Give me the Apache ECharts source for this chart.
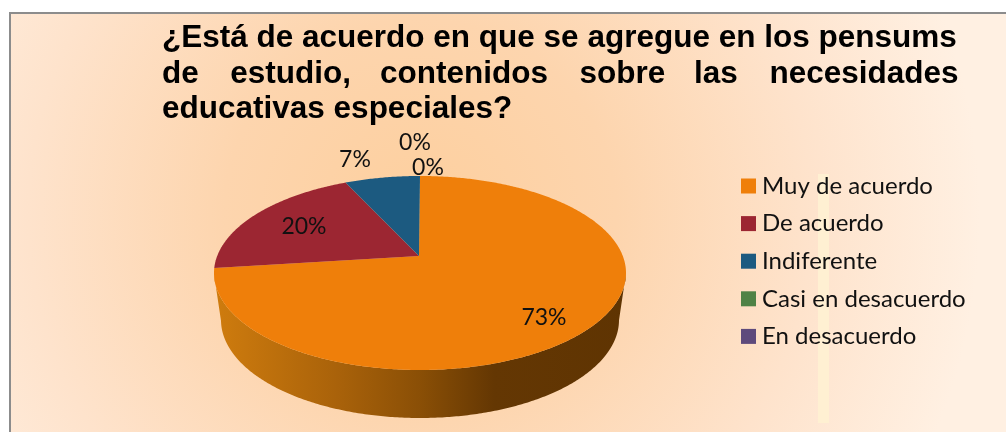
<!DOCTYPE html>
<html>
<head>
<meta charset="utf-8">
<style>
  html, body { margin: 0; padding: 0; background: #fff; }
  #chart { width: 1006px; height: 432px; }
</style>
<script src="https://cdn.jsdelivr.net/npm/echarts@6/dist/echarts.min.js"></script>
</head>
<body>
<div id="chart"></div>
<script>
// data
const categories = ['Muy de acuerdo', 'De acuerdo', 'Indiferente', 'Casi en desacuerdo', 'En desacuerdo']
const percents = [73, 20, 7, 0, 0]
const colors = ['#ef7f0a', '#9c2632', '#1c5a80', '#4f8245', '#5e4a7c']
// hair spaces stretch the second line to the full title width
const titleLines = [
  '¿Está de acuerdo en que se agregue en los pensums',
  'de   \u200a\u200aestudio,   \u200acontenidos   \u200a\u200asobre   \u200alas   \u200a\u200anecesidades',
  'educativas especiales?'
]

// layout of the tilted pie
const topRim = { cx: 420, cy: 273, rx: 206, ry: 97 }
const bottomRim = { cx: 420, cy: 320, rx: 199, ry: 98 }
const tilt = -0.175 // moves the apex up from the centre of the ellipse
const labelSpots = [[544, 318], [304, 227], [355, 160], [415, 143], [428, 168]]
const labelFont = '23px Lato'

const total = percents.reduce((a, b) => a + b, 0)

// angle 0 is 12 o'clock, clockwise
const project = (rim, angle) => {
  const u = Math.sin(angle)
  const v = -Math.cos(angle)
  const d = 1 + tilt * v
  return {
    x: u * Math.sqrt(1 - tilt * tilt) / d,
    y: (v + tilt) / d,
    px: rim.cx + rim.rx * u * Math.sqrt(1 - tilt * tilt) / d,
    py: rim.cy + rim.ry * (v + tilt) / d
  }
}

const arc = (rim, start, end) => {
  const pts = []
  const steps = Math.max(2, Math.ceil((end - start) / 0.01))
  for (let i = 0; i <= steps; i++) {
    pts.push(project(rim, start + (end - start) * i / steps))
  }
  return pts
}

const renderSlice = (index) => (params, api) => {
  const value = api.value(0)
  const before = percents.slice(0, index).reduce((a, b) => a + b, 0)
  const start = before / total * Math.PI * 2
  const end = (before + value) / total * Math.PI * 2
  const children = []

  if (value > 0) {
    // side wall, only for the part of the rim facing the viewer
    const front = arc(topRim, start, end).filter(p => p.y >= 0)
    const back = arc(bottomRim, start, end).filter(p => p.y >= 0)
    if (front.length > 1) {
      const points = front.map(p => [p.px, p.py]).concat(back.reverse().map(p => [p.px, p.py]))
      children.push({
        type: 'polygon',
        z2: 1,
        shape: { points },
        style: {
          fill: new echarts.graphic.LinearGradient(0, 0, 1, 0, [
            { offset: 0, color: '#cf7c0e' },
            { offset: 0.3, color: '#a9620a' },
            { offset: 0.5, color: '#8a4f06' },
            { offset: 0.68, color: '#643703' },
            { offset: 1, color: '#5f3402' }
          ])
        }
      })
    }
    // top face
    const apex = [topRim.cx - 1, topRim.cy + topRim.ry * tilt]
    children.push({
      type: 'polygon',
      z2: 2,
      shape: { points: [apex].concat(arc(topRim, start, end).map(p => [p.px, p.py])) },
      style: { fill: colors[index] }
    })
  }

  children.push({
    type: 'text',
    z2: 3,
    x: labelSpots[index][0],
    y: labelSpots[index][1],
    style: {
      text: value + '%',
      font: labelFont,
      fill: '#111',
      align: 'center',
      verticalAlign: 'middle'
    }
  })
  return { type: 'group', children }
}

const chart = echarts.init(document.getElementById('chart'))

chart.setOption({
  animation: false,
  title: {
    text: titleLines.join('\n'),
    left: 157,
    top: 16,
    textStyle: {
      fontFamily: 'Liberation Sans',
      fontWeight: 'bold',
      fontSize: 31.5,
      lineHeight: 35.5,
      color: '#000'
    }
  },
  legend: {
    orient: 'vertical',
    left: 741,
    top: 174,
    itemWidth: 15,
    itemHeight: 15,
    itemGap: 13.6,
    icon: 'rect',
    padding: 0,
    selectedMode: false,
    data: categories,
    textStyle: {
      fontFamily: 'Lato',
      fontSize: 24,
      color: '#111',
      padding: [0, 0, 0, 1]
    }
  },
  graphic: [
    {
      type: 'rect',
      z: -10,
      shape: { x: 10, y: 13, width: 1003, height: 430 },
      style: {
        fill: new echarts.graphic.RadialGradient(420, 215, 560, [
          { offset: 0, color: '#fdcf9e' },
          { offset: 0.35, color: '#fdd5ae' },
          { offset: 0.7, color: '#fee3cc' },
          { offset: 1, color: '#fff0e2' }
        ], true),
        stroke: '#8c8c8c',
        lineWidth: 2
      }
    },
    {
      type: 'rect',
      z: -9,
      shape: { x: 818, y: 174, width: 11, height: 249 },
      style: { fill: '#fff0d2' }
    }
  ],
  series: categories.map((name, i) => ({
    name,
    type: 'custom',
    coordinateSystem: 'none',
    itemStyle: { color: colors[i] },
    renderItem: renderSlice(i),
    data: [[percents[i]]]
  }))
})

window.addEventListener('resize', () => chart.resize())
</script>
</body>
</html>
